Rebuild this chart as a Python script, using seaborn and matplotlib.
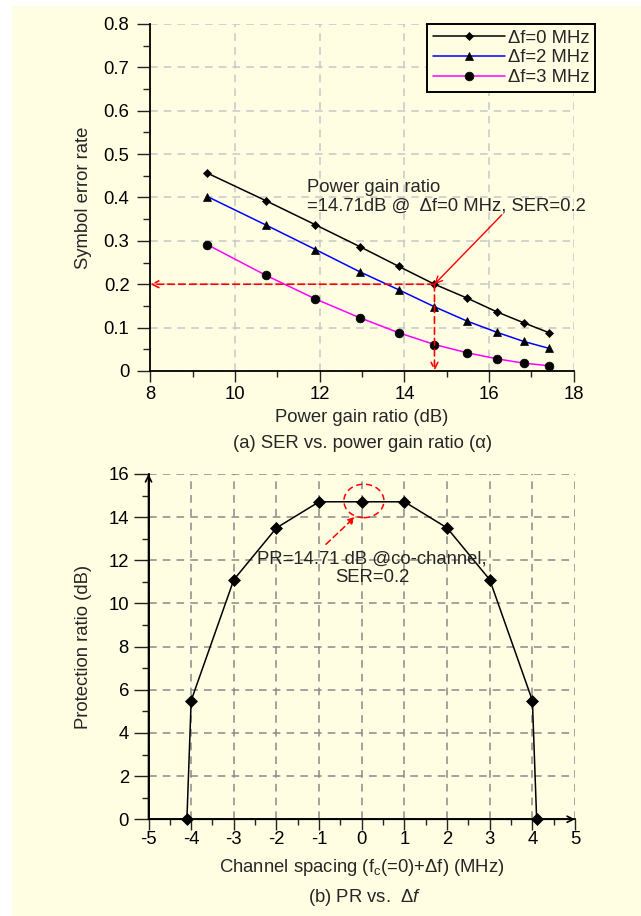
import matplotlib
matplotlib.use("Agg")
import matplotlib.pyplot as plt
from matplotlib.patches import Ellipse, Rectangle
from matplotlib.ticker import MultipleLocator
import seaborn as sns
import pandas as pd

# ── Data ──────────────────────────────────────────────────────────────────────
gain_db = [9.35, 10.72, 11.90, 12.94, 13.87, 14.71, 15.48, 16.19, 16.82, 17.42]
ser_df0 = [0.456, 0.393, 0.337, 0.287, 0.241, 0.200, 0.168, 0.136, 0.111, 0.088]
ser_df2 = [0.402, 0.337, 0.280, 0.229, 0.187, 0.148, 0.115, 0.089, 0.068, 0.052]
ser_df3 = [0.291, 0.221, 0.166, 0.123, 0.088, 0.061, 0.042, 0.028, 0.018, 0.012]
series_labels = ["Δf=0 MHz", "Δf=2 MHz", "Δf=3 MHz"]

spacing_mhz = [-4.1, -4, -3, -2, -1, 0, 1, 2, 3, 4, 4.1]
pr_db = [0, 5.5, 11.1, 13.5, 14.71, 14.71, 14.71, 13.5, 11.1, 5.5, 0]

target_gain = 14.71
target_ser = 0.2

# ── Style ─────────────────────────────────────────────────────────────────────
BG = "#FFFEE3"
FS = 13.3

sns.set_style("ticks")
plt.rcParams["font.family"] = ["Liberation Sans", "DejaVu Sans"]
plt.rcParams["mathtext.fontset"] = "custom"
plt.rcParams["mathtext.rm"] = "Liberation Sans"
plt.rcParams["mathtext.it"] = "Liberation Sans:italic"
plt.rcParams["axes.unicode_minus"] = False

fig = plt.figure(figsize=(6.41, 9.16), dpi=100, facecolor="white")
fig.patches.append(Rectangle((12 / 641, 0), 1 - 12 / 641, 1 - 6 / 916,
                             transform=fig.transFigure, facecolor=BG,
                             edgecolor="none", zorder=-10))

ax1 = fig.add_axes([0.2345, 0.5950, 0.6607, 0.3788])
ax2 = fig.add_axes([0.2317, 0.1056, 0.6654, 0.3770])


def style_axes(ax, grid_color, dash):
    ax.set_facecolor("none")
    ax.spines[["top", "right"]].set_visible(False)
    for s in ("left", "bottom"):
        ax.spines[s].set_linewidth(1.3)
        ax.spines[s].set_color("black")
    ax.grid(True, which="major", color=grid_color, linestyle=(0, dash), lw=1.1)
    ax.tick_params(axis="both", which="both", colors="#222222",
                   labelcolor="black", labelsize=FS, width=1.0)
    ax.tick_params(axis="y", which="major", length=9.5)
    ax.tick_params(axis="y", which="minor", length=5)
    ax.tick_params(axis="x", which="major", length=7.7)
    ax.tick_params(axis="x", which="minor", length=4.3)


# ── (a) SER vs power gain ratio ───────────────────────────────────────────────
df_ser = pd.DataFrame({
    "gain": gain_db * 3,
    "ser": ser_df0 + ser_df2 + ser_df3,
    "series": [lab for lab in series_labels for _ in gain_db],
})
line_colors = ["black", "#0000FF", "#FF00FF"]
markers = ["D", "^", "o"]
msizes = [4.1, 6.3, 6.3]

for lab, col, mk, ms in zip(series_labels, line_colors, markers, msizes):
    sub = df_ser[df_ser["series"] == lab]
    sns.lineplot(data=sub, x="gain", y="ser", ax=ax1, color=col, lw=1.1,
                 marker=mk, markersize=ms, markerfacecolor="black",
                 markeredgecolor="black", markeredgewidth=0.5,
                 label=lab, sort=False, zorder=3, clip_on=False)

style_axes(ax1, "#C8C8C8", (5, 4))
ax1.set_xlim(8, 18)
ax1.set_ylim(0, 0.8)
ax1.xaxis.set_major_locator(MultipleLocator(2))
ax1.xaxis.set_minor_locator(MultipleLocator(1))
ax1.yaxis.set_major_locator(MultipleLocator(0.1))
ax1.yaxis.set_minor_locator(MultipleLocator(0.05))
ax1.set_yticklabels(["0" if v == 0 else f"{v:.1f}" for v in ax1.get_yticks()])
ax1.tick_params(axis="x", which="major", pad=3)
ax1.tick_params(axis="y", which="major", pad=5.5)

ax1.set_xlabel("Power gain ratio (dB)", fontsize=FS, va="center")
ax1.xaxis.set_label_coords(0.5, -0.1334)
ax1.set_ylabel("Symbol error rate", fontsize=FS, va="center")
ax1.yaxis.set_label_coords(-0.157, 0.5)

leg = ax1.legend(loc="upper right", bbox_to_anchor=(1.05, 1.0), borderaxespad=0,
                 fontsize=FS, frameon=True, fancybox=False, framealpha=1,
                 facecolor=BG, edgecolor="black", handlelength=3.9,
                 handletextpad=0.15, labelspacing=0.15, borderpad=0.3)
leg.get_frame().set_linewidth(1.4)

# red guide arrows at SER = 0.2
ax1.annotate("", xy=(ax1.get_xlim()[0], target_ser), xytext=(target_gain, target_ser),
             arrowprops=dict(arrowstyle="->", color="red", ls=(0, (4, 2.5)), lw=1.2,
                             shrinkA=0, shrinkB=0, mutation_scale=12), zorder=4)
ax1.annotate("", xy=(target_gain, 0), xytext=(target_gain, target_ser),
             arrowprops=dict(arrowstyle="->", color="red", ls=(0, (4, 2.5)), lw=1.2,
                             shrinkA=0, shrinkB=0, mutation_scale=12), zorder=4)
ax1.annotate("", xy=(target_gain, target_ser), xytext=(16.30, 0.36),
             arrowprops=dict(arrowstyle="->", color="red", lw=1.0,
                             shrinkA=0, shrinkB=0, mutation_scale=12), zorder=4)
ax1.text(11.69, 0.402,
         "Power gain ratio\n=14.71dB @  Δf=0 MHz, SER=0.2",
         fontsize=FS, ha="left", va="center", linespacing=1.1)

fig.text(0.565, 1 - 443.3 / 916, "(a) SER vs. power gain ratio (α)",
         fontsize=FS, ha="center", va="center")

# ── (b) PR vs channel spacing ─────────────────────────────────────────────────
df_pr = pd.DataFrame({"spacing": spacing_mhz, "pr": pr_db})
sns.lineplot(data=df_pr, x="spacing", y="pr", ax=ax2, color="black", lw=1.1,
             marker="D", markersize=6.0, markerfacecolor="black",
             markeredgecolor="black", markeredgewidth=0.5,
             sort=False, zorder=3, clip_on=False)

style_axes(ax2, "#8A8A8A", (5, 4))
ax2.set_xlim(-5, 5)
ax2.set_ylim(0, 16)
ax2.xaxis.set_major_locator(MultipleLocator(1))
ax2.xaxis.set_minor_locator(MultipleLocator(0.5))
ax2.yaxis.set_major_locator(MultipleLocator(2))
ax2.yaxis.set_minor_locator(MultipleLocator(1))
ax2.tick_params(axis="y", which="major", length=10.5, pad=3.6)
ax2.tick_params(axis="x", which="major", pad=0.5)

# arrow heads on the axes
ax2.annotate("", xy=(1, 0), xytext=(0, 0), xycoords="axes fraction",
             arrowprops=dict(arrowstyle="->", color="black", lw=1.2,
                             shrinkA=0, shrinkB=0, mutation_scale=11))
ax2.annotate("", xy=(0, 1), xytext=(0, 0), xycoords="axes fraction",
             arrowprops=dict(arrowstyle="->", color="black", lw=1.2,
                             shrinkA=0, shrinkB=0, mutation_scale=11))

ax2.set_xlabel(r"Channel spacing (f$_\mathrm{c}$(=0)+Δf) (MHz)", fontsize=FS, va="center")
ax2.xaxis.set_label_coords(0.5, -0.140)
ax2.set_ylabel("Protection ratio (dB)", fontsize=FS, va="center")
ax2.yaxis.set_label_coords(-0.1517, 0.5)

co_channel_pr = pr_db[spacing_mhz.index(0)]
ax2.add_patch(Ellipse((0.05, co_channel_pr + 0.04), 0.94, 1.55, fill=False,
                      edgecolor="red", ls=(0, (4, 2.5)), lw=1.1, zorder=4))
ax2.annotate("", xy=(-0.16, 14.01), xytext=(-0.84, 12.74),
             arrowprops=dict(arrowstyle="-|>", color="red", ls=(0, (4, 2.5)), lw=1.1,
                             shrinkA=0, shrinkB=0, mutation_scale=10), zorder=4)
ax2.text(0.24, 11.63, "PR=14.71 dB @co-channel,\nSER=0.2", fontsize=FS,
         ha="center", va="center", multialignment="center", linespacing=1.1)

fig.text(0.569, 1 - 897.7 / 916, r"(b) PR vs.  Δ$f$",
         fontsize=FS, ha="center", va="center")

fig.savefig("out.png", dpi=100, facecolor=fig.get_facecolor())
